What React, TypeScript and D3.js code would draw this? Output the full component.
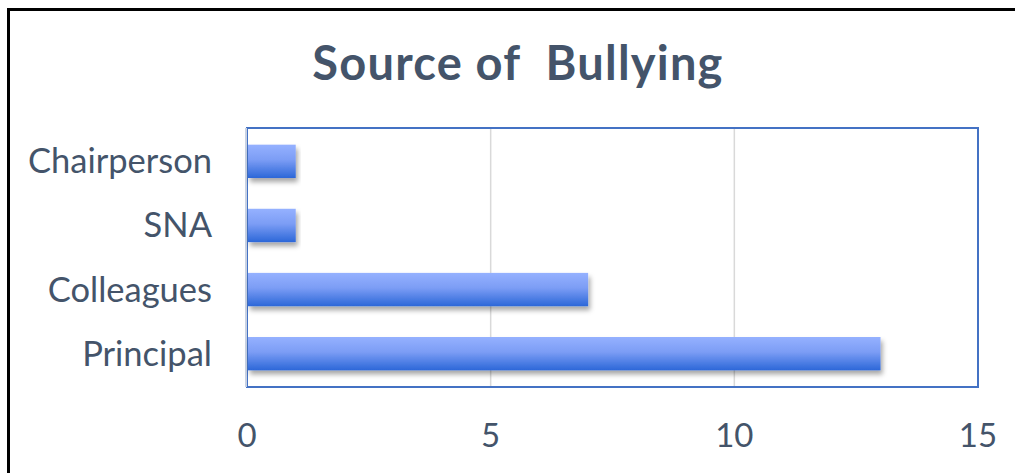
import { useMemo } from 'react';
import * as d3 from 'd3';

const categories = ['Chairperson', 'SNA', 'Colleagues', 'Principal'];
const counts = [1, 1, 7, 13];
const tickValues = [0, 5, 10, 15];

const W = 1015;
const H = 473;
const plot = { left: 247, right: 978, top: 128, bottom: 387 };
const textColor = '#44546A';
const font = 'Lato, "Open Sans", sans-serif';

export default function App() {
  const x = useMemo(() => d3.scaleLinear().domain([0, 15]).range([plot.left, plot.right]), []);
  const y = useMemo(
    () => d3.scaleBand<string>().domain(categories).range([plot.top, plot.bottom]).paddingInner(0.48).paddingOuter(0.26),
    []
  );

  return (
    <div style={{ position: 'fixed', left: 0, top: 0 }}>
      <svg width={W} height={H} style={{ display: 'block', background: '#fff' }}>
        <defs>
          <linearGradient id="barGrad" x1="0" y1="0" x2="0" y2="1">
            <stop offset="0%" stopColor="#95B1FF" />
            <stop offset="45%" stopColor="#7C9DF5" />
            <stop offset="100%" stopColor="#2C67D8" />
          </linearGradient>
          <filter id="shadow" x="-5%" y="-30%" width="115%" height="180%">
            <feDropShadow dx="2" dy="4" stdDeviation="2.5" floodColor="#000" floodOpacity="0.35" />
          </filter>
        </defs>

        {/* outer frame */}
        <rect x={8.5} y={9.5} width={W + 20} height={H + 20} fill="none" stroke="#000" strokeWidth={3} />

        {/* title */}
        <text
          x={518}
          y={80}
          textAnchor="middle"
          fontFamily={font}
          fontWeight="bold"
          fontSize={47}
          letterSpacing={1.2}
          fill={textColor}
          style={{ whiteSpace: 'pre' }}
        >
          Source of  Bullying
        </text>

        {/* gridlines */}
        {tickValues.slice(1, -1).map(t => (
          <line key={t} x1={x(t)} x2={x(t)} y1={plot.top} y2={plot.bottom} stroke="#D9D9D9" strokeWidth={1.5} />
        ))}

        {/* plot border */}
        <rect
          x={plot.left}
          y={plot.top}
          width={plot.right - plot.left}
          height={plot.bottom - plot.top}
          fill="none"
          stroke="#4472C4"
          strokeWidth={2}
        />
        <line x1={plot.left - 1} x2={plot.left - 1} y1={plot.top} y2={plot.bottom} stroke="#C9D2E3" strokeWidth={2} />

        {/* bars */}
        {categories.map((c, i) => (
          <rect
            key={c}
            x={x(0) + 1}
            y={y(c)!}
            width={x(counts[i]) - x(0) - 1}
            height={y.bandwidth()}
            fill="url(#barGrad)"
            filter="url(#shadow)"
          />
        ))}

        {/* category labels */}
        {categories.map(c => (
          <text
            key={c}
            x={212}
            y={y(c)! + y.bandwidth() / 2 + 12}
            textAnchor="end"
            fontFamily={font}
            fontSize={34.5}
            fill={textColor}
          >
            {c}
          </text>
        ))}

        {/* x tick labels */}
        {tickValues.map(t => (
          <text key={t} x={x(t)} y={447} textAnchor="middle" fontFamily={font} fontSize={33} fill={textColor}>
            {t}
          </text>
        ))}
      </svg>
    </div>
  );
}
